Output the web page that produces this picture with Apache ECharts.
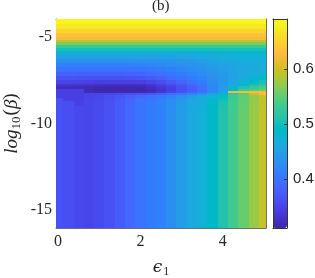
<!DOCTYPE html>
<html><head><meta charset="utf-8">
<script src="https://cdn.jsdelivr.net/npm/echarts@6/dist/echarts.min.js"></script>
<style>html,body{margin:0;padding:0;background:#fff}#c{width:315px;height:278px}</style>
</head><body><div id="c"></div>
<script>
// ---- data ----
const xCenters = [0,0.25,0.5,0.75,1,1.25,1.5,1.75,2,2.25,2.5,2.75,3,3.25,3.5,3.75,4,4.25,4.5,4.75,5];
const yEdges = [-3.95,-4.25,-4.5,-4.75,-5.0,-5.15,-5.3,-5.45,-5.6,-5.8,-6.0,-6.25,-6.5,-6.75,-7.0,-7.25,-7.5,-7.7,-7.85,-8.0,-8.1,-8.22,-8.35,-8.5,-8.7,-9.0,-16.05];
const rowTopYellow   = [0.685,0.685,0.685,0.685,0.685,0.685,0.685,0.685,0.685,0.685,0.685,0.685,0.685,0.685,0.685,0.685,0.685,0.685,0.685,0.685,0.685];
const rowYellow2     = [0.672,0.672,0.672,0.672,0.672,0.672,0.672,0.672,0.672,0.672,0.672,0.672,0.672,0.672,0.672,0.672,0.672,0.672,0.672,0.672,0.672];
const rowYellow3     = [0.655,0.655,0.655,0.655,0.655,0.655,0.655,0.655,0.655,0.655,0.655,0.655,0.655,0.655,0.655,0.655,0.655,0.655,0.655,0.655,0.655];
const rowOrange1     = [0.636,0.636,0.636,0.636,0.636,0.636,0.636,0.636,0.636,0.636,0.636,0.636,0.636,0.636,0.636,0.636,0.636,0.636,0.636,0.636,0.636];
const rowOrange2     = [0.624,0.624,0.624,0.624,0.624,0.624,0.624,0.624,0.624,0.624,0.624,0.624,0.624,0.624,0.624,0.624,0.624,0.624,0.624,0.624,0.624];
const rowOlive       = [0.596,0.596,0.596,0.596,0.596,0.596,0.596,0.596,0.596,0.596,0.596,0.596,0.596,0.596,0.596,0.596,0.596,0.596,0.596,0.596,0.596];
const rowGreen1      = [0.562,0.562,0.562,0.562,0.562,0.562,0.562,0.562,0.562,0.562,0.562,0.562,0.562,0.562,0.562,0.562,0.562,0.562,0.562,0.562,0.562];
const rowGreen2      = [0.530,0.530,0.530,0.530,0.530,0.530,0.530,0.530,0.530,0.530,0.530,0.530,0.530,0.530,0.530,0.530,0.530,0.530,0.530,0.530,0.530];
const rowTeal        = [0.503,0.503,0.503,0.503,0.503,0.503,0.503,0.503,0.503,0.503,0.503,0.503,0.503,0.503,0.503,0.503,0.503,0.503,0.503,0.503,0.503];
const rowCyan1       = [0.480,0.480,0.480,0.480,0.480,0.480,0.480,0.480,0.480,0.480,0.480,0.480,0.480,0.480,0.480,0.480,0.483,0.483,0.483,0.483,0.483];
const rowCyan2       = [0.452,0.452,0.452,0.452,0.452,0.452,0.452,0.452,0.452,0.452,0.452,0.452,0.455,0.458,0.462,0.465,0.468,0.471,0.473,0.474,0.475];
const rowBlue1       = [0.433,0.433,0.433,0.433,0.433,0.433,0.433,0.433,0.433,0.434,0.435,0.437,0.440,0.444,0.450,0.455,0.460,0.463,0.466,0.468,0.470];
const rowBlue2       = [0.415,0.415,0.415,0.415,0.415,0.415,0.415,0.415,0.417,0.419,0.422,0.426,0.430,0.435,0.440,0.446,0.452,0.457,0.462,0.465,0.468];
const rowBlue3       = [0.398,0.398,0.398,0.398,0.398,0.398,0.398,0.398,0.400,0.404,0.408,0.414,0.420,0.426,0.432,0.440,0.447,0.454,0.460,0.465,0.469];
const rowBlue4       = [0.382,0.382,0.381,0.380,0.380,0.380,0.380,0.382,0.385,0.390,0.395,0.402,0.410,0.418,0.425,0.434,0.442,0.451,0.460,0.468,0.475];
const rowBlue5       = [0.366,0.366,0.365,0.364,0.363,0.363,0.363,0.365,0.368,0.373,0.380,0.390,0.400,0.409,0.418,0.429,0.440,0.452,0.465,0.478,0.490];
const rowDark1       = [0.350,0.350,0.349,0.347,0.345,0.345,0.345,0.345,0.346,0.352,0.360,0.372,0.385,0.397,0.410,0.425,0.440,0.458,0.475,0.490,0.505];
const rowDark2       = [0.333,0.333,0.332,0.330,0.327,0.325,0.325,0.325,0.326,0.334,0.345,0.357,0.370,0.385,0.400,0.420,0.440,0.465,0.490,0.505,0.520];
const rowDark3       = [0.322,0.322,0.321,0.318,0.315,0.314,0.314,0.314,0.315,0.323,0.335,0.347,0.360,0.377,0.395,0.420,0.445,0.477,0.510,0.525,0.540];
const rowDark4       = [0.345,0.345,0.345,0.318,0.313,0.313,0.313,0.313,0.313,0.318,0.330,0.345,0.360,0.375,0.395,0.420,0.450,0.490,0.530,0.545,0.555];
const rowStreak      = [0.345,0.345,0.345,0.318,0.316,0.316,0.316,0.316,0.317,0.322,0.335,0.350,0.365,0.380,0.395,0.420,0.450,0.622,0.624,0.626,0.628];
const rowBelow1      = [0.345,0.345,0.345,0.350,0.350,0.352,0.356,0.360,0.365,0.370,0.380,0.392,0.405,0.420,0.430,0.450,0.480,0.520,0.545,0.600,0.628];
const rowBelow2      = [0.345,0.345,0.345,0.350,0.353,0.360,0.368,0.378,0.388,0.395,0.403,0.415,0.430,0.445,0.460,0.475,0.495,0.530,0.550,0.570,0.600];
const rowBelow3      = [0.364,0.345,0.345,0.352,0.355,0.362,0.372,0.385,0.396,0.404,0.412,0.424,0.440,0.455,0.465,0.480,0.500,0.532,0.550,0.572,0.593];
const rowBelow4      = [0.364,0.362,0.347,0.352,0.356,0.364,0.374,0.387,0.399,0.407,0.415,0.427,0.443,0.459,0.470,0.485,0.507,0.534,0.551,0.574,0.594];
const rowLower       = [0.364,0.362,0.355,0.352,0.356,0.365,0.375,0.388,0.400,0.408,0.416,0.428,0.445,0.462,0.472,0.487,0.510,0.535,0.552,0.575,0.595];
const zRows = [rowTopYellow,rowYellow2,rowYellow3,rowOrange1,rowOrange2,rowOlive,rowGreen1,rowGreen2,rowTeal,rowCyan1,rowCyan2,
  rowBlue1,rowBlue2,rowBlue3,rowBlue4,rowBlue5,rowDark1,rowDark2,rowDark3,rowDark4,rowStreak,rowBelow1,rowBelow2,rowBelow3,rowBelow4,rowLower];
const xTickValues = [0,2,4];
const yTickValues = [-15,-10,-5];
const cbTickValues = [0.4,0.5,0.6];
const zMin = 0.311, zMax = 0.691;
const titleText = '(b)';

// ---- parula colormap ----
const parula = ['#3e26a8','#402ab4','#422ec0','#4332cb','#4537d5','#463cde','#4741e5','#4747eb','#484df0','#4852f4','#4758f8','#465efb','#4563fd','#4269fe','#3e6fff','#3875fe',
'#327cfc','#2f81fa','#2e87f7','#2d8cf3','#2b91ef','#2796eb','#259be8','#23a0e5','#20a5e3','#1ca9df','#18addb','#12b1d6','#08b5d0','#01b8ca','#02bac3','#0bbdbd',
'#19bfb6','#24c1ae','#2cc4a7','#31c69f','#37c897','#3fca8e','#4acb84','#57cc7a','#64cd6f','#72cd64','#81cc59','#8fcb4e','#9dc943','#abc739','#b9c431','#c5c22a',
'#d1bf27','#dcbd29','#e6bb2d','#f0ba36','#f8ba3d','#febe3c','#fec338','#fec934','#fccf30','#fad62d','#f7dc2a','#f5e327','#f5e924','#f6ef20','#f7f51b','#f9fb15'];

// build cells
const nx = xCenters.length;
const cells = [];
for (let r = 0; r < zRows.length; r++) {
  for (let c = 0; c < nx; c++) {
    const xl = c === 0 ? xCenters[0] - (xCenters[1] - xCenters[0]) / 2 : (xCenters[c - 1] + xCenters[c]) / 2;
    const xr = c === nx - 1 ? xCenters[nx - 1] + (xCenters[nx - 1] - xCenters[nx - 2]) / 2 : (xCenters[c] + xCenters[c + 1]) / 2;
    cells.push([xl, xr, yEdges[r], yEdges[r + 1], zRows[r][c]]);
  }
}

const axisCol = '#6e6e6e';
const txtCol = '#262626';
const serif = 'Liberation Serif';

function renderCell(params, api) {
  const p0 = api.coord([api.value(0), api.value(2)]);
  const p1 = api.coord([api.value(1), api.value(3)]);
  const x0 = Math.round(Math.min(p0[0], p1[0])), x1 = Math.round(Math.max(p0[0], p1[0]));
  const y0 = Math.round(Math.min(p0[1], p1[1])), y1 = Math.round(Math.max(p0[1], p1[1]));
  const cs = params.coordSys;
  const rect = echarts.graphic.clipRectByRect(
    { x: x0, y: y0, width: x1 - x0, height: y1 - y0 },
    { x: cs.x, y: cs.y, width: cs.width, height: cs.height });
  if (!rect) return;
  return { type: 'rect', shape: rect, style: { fill: api.visual('color') } };
}

const chart = echarts.init(document.getElementById('c'), null, { renderer: 'canvas' });
const mainAxisCommon = {
  type: 'value',
  axisLine: { show: true, onZero: false, lineStyle: { color: axisCol, width: 1 } },
  axisTick: { show: true, inside: true, length: 3, lineStyle: { color: axisCol } },
  splitLine: { show: false },
};
chart.setOption({
  animation: false,
  title: { text: titleText, left: 152, top: -1, padding: 0,
    textStyle: { fontFamily: serif, fontSize: 15, fontWeight: 'normal', color: txtCol } },
  grid: [
    { left: 56, top: 19, width: 210, height: 209, outerBoundsMode: 'none', containLabel: false },
    { left: 273, top: 19, width: 14, height: 209, outerBoundsMode: 'none', containLabel: false }
  ],
  xAxis: [
    Object.assign({}, mainAxisCommon, { gridIndex: 0, position: 'bottom', min: -0.05, max: 5.05,
      axisTick: Object.assign({}, mainAxisCommon.axisTick, { customValues: xTickValues }),
      axisLabel: { customValues: xTickValues, margin: 6, fontFamily: serif, fontSize: 16, color: txtCol },
      name: '{e|ϵ}{s|1}', nameLocation: 'middle', nameGap: 29,
      nameTextStyle: { rich: {
        e: { fontFamily: 'DejaVu Serif', fontStyle: 'italic', fontSize: 17, color: txtCol },
        s: { fontFamily: serif, fontSize: 12, color: txtCol, padding: [9, 0, 0, 1] } } } }),
    Object.assign({}, mainAxisCommon, { gridIndex: 0, position: 'top', min: -0.05, max: 5.05,
      axisTick: Object.assign({}, mainAxisCommon.axisTick, { customValues: xTickValues }),
      axisLabel: { show: false } }),
    { type: 'value', gridIndex: 1, position: 'bottom', min: 0, max: 1,
      axisLine: { show: true, onZero: false, lineStyle: { color: '#333' } }, axisTick: { show: false }, axisLabel: { show: false }, splitLine: { show: false }, z: 6 },
    { type: 'value', gridIndex: 1, position: 'top', min: 0, max: 1,
      axisLine: { show: true, onZero: false, lineStyle: { color: '#333' } }, axisTick: { show: false }, axisLabel: { show: false }, splitLine: { show: false }, z: 6 }
  ],
  yAxis: [
    Object.assign({}, mainAxisCommon, { gridIndex: 0, position: 'left', min: -16.05, max: -3.95,
      axisTick: Object.assign({}, mainAxisCommon.axisTick, { customValues: yTickValues }),
      axisLabel: { customValues: yTickValues, margin: 4, fontFamily: serif, fontSize: 16, color: txtCol },
      name: '{i|log}{s|10}{r|(}{i|β}{r|)}', nameLocation: 'middle', nameGap: 33, nameMoveOverlap: false,
      nameTextStyle: { rich: {
        i: { fontFamily: serif, fontStyle: 'italic', fontSize: 19, color: txtCol },
        r: { fontFamily: serif, fontSize: 19, color: txtCol },
        s: { fontFamily: serif, fontSize: 13, color: txtCol, padding: [10, 1, 0, 0] } } } }),
    Object.assign({}, mainAxisCommon, { gridIndex: 0, position: 'right', min: -16.05, max: -3.95,
      axisTick: Object.assign({}, mainAxisCommon.axisTick, { customValues: yTickValues }),
      axisLabel: { show: false } }),
    { type: 'value', gridIndex: 1, position: 'right', min: zMin, max: zMax, z: 6,
      axisLine: { show: true, onZero: false, lineStyle: { color: '#333' } },
      axisTick: { show: true, inside: true, length: 3, customValues: cbTickValues, lineStyle: { color: '#333' } },
      axisLabel: { customValues: cbTickValues, margin: 6, fontFamily: 'Liberation Sans', fontSize: 15, color: txtCol,
        formatter: v => v.toFixed(1) },
      splitLine: { show: false } },
    { type: 'value', gridIndex: 1, position: 'left', min: zMin, max: zMax, z: 6,
      axisLine: { show: true, onZero: false, lineStyle: { color: '#333' } }, axisTick: { show: false }, axisLabel: { show: false }, splitLine: { show: false } }
  ],
  visualMap: {
    type: 'continuous', min: zMin, max: zMax, dimension: 4, seriesIndex: 0,
    calculable: false, realtime: false, hoverLink: false,
    left: 273, top: 19, itemWidth: 14, itemHeight: 209, padding: 0, text: null,
    inRange: { color: parula }
  },
  series: [{
    type: 'custom', xAxisIndex: 0, yAxisIndex: 0,
    renderItem: renderCell,
    encode: { x: [0, 1], y: [2, 3] },
    data: cells,
    silent: true
  }]
});
</script>
</body></html>
